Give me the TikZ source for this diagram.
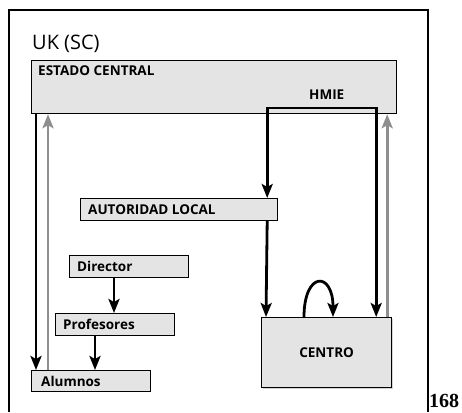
\documentclass[tikz,border=0pt]{standalone}
\usepackage{fontspec}
\setsansfont{Open Sans}
\newfontfamily\pagefont{Liberation Serif}
\usetikzlibrary{arrows.meta,shadows}
\definecolor{boxgray}{HTML}{E4E4E4}
\definecolor{midgray}{HTML}{8E8E8E}
\tikzset{
  box/.style={draw=black, line width=1.2pt, fill=boxgray, inner sep=0pt, anchor=north west},
  lbl/.style={font=\sffamily\bfseries\fontsize{13.5}{14}\selectfont, anchor=west, inner sep=0pt},
  blk/.style={line width=2.8pt, draw=black, -{Stealth[length=14pt,width=11pt,inset=3pt]}},
  gry/.style={line width=2.8pt, draw=midgray, -{Stealth[length=14pt,width=11pt,inset=3pt]}}
}
\begin{document}
\begin{tikzpicture}[x=1pt,y=-1pt]
\useasboundingbox (0,0) rectangle (462,412);
\draw[line width=2pt] (9,412) -- (9,10) -- (428,10) -- (428,412);
\node[font=\sffamily\fontsize{20}{22}\selectfont, anchor=west, inner sep=0pt] (uk) at (32,44) {UK (SC)};
\node[anchor=south west, inner sep=0pt, font=\pagefont\bfseries\fontsize{20}{22}\selectfont] (pg) at (429,408) {168};
% boxes
\node[box, minimum width=365, minimum height=53] (est) at (31,60) {};
\node[lbl] (estl) at ([xshift=7,yshift=-11]est.north west) {ESTADO CENTRAL};
\node[lbl] (hmie) at (309,95) {HMIE};
\node[box, minimum width=197, minimum height=22] (auto) at (80,198) {};
\node[lbl] (autol) at ([xshift=8]auto.west) {AUTORIDAD LOCAL};
\node[box, minimum width=119, minimum height=22] (dir) at (69,255) {};
\node[lbl] (dirl) at ([xshift=8]dir.west) {Director};
\node[box, minimum width=119, minimum height=22] (prof) at (55,313) {};
\node[lbl] (profl) at ([xshift=8]prof.west) {Profesores};
\node[box, minimum width=119, minimum height=21] (alum) at (31,370) {};
\node[lbl] (aluml) at ([xshift=10]alum.west) {Alumnos};
\node[box, minimum width=130, minimum height=70, drop shadow={shadow xshift=1.5pt, shadow yshift=-1.5pt, opacity=0.35}] (centro) at (261,317) {};
\node[lbl, anchor=center] (centrol) at (centro.center) {CENTRO};
% connectors
\coordinate (hm) at (320,108);
\draw[blk] ([xshift=5]est.south west) -- ([xshift=5]alum.north west);
\draw[gry] ([xshift=17]alum.north west) -- ([xshift=17]est.south west);
\draw[blk] (hm) -| ([xshift=-11]auto.north east);
\draw[blk] (hm) -| ([xshift=-16]centro.north east);
\draw[blk] ([xshift=-11]auto.south east) -- ([xshift=5]centro.north west);
\draw[gry] ([xshift=-5]centro.north east) -- ([xshift=-10]est.south east);
\draw[blk] ([xshift=45]dir.south west) -- ([xshift=59]prof.north west);
\draw[blk] ([xshift=40]prof.south west) -- ([xshift=64]alum.north west);
\draw[blk] ([xshift=43]centro.north west) .. controls +(0,-46) and +(0,-46) .. ([xshift=72]centro.north west);
\end{tikzpicture}
\end{document}
